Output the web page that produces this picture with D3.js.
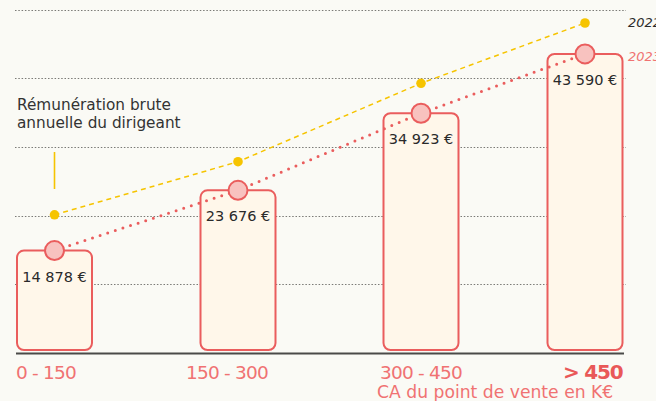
<!DOCTYPE html>
<html><head><meta charset="utf-8">
<script src="https://cdn.jsdelivr.net/npm/d3@7"></script>
<style>
html,body{margin:0;padding:0;background:#fafaf5;}
svg{display:block;}
text{font-family:"DejaVu Sans",sans-serif;}
</style></head>
<body><svg id="chart" width="656" height="401"></svg>
<script>
const categories = ["0 - 150", "150 - 300", "300 - 450", "> 450"];
const values2023 = [14878, 23676, 34923, 43590];
const values2022 = [20100, 27850, 39300, 48100];
const valueLabels = ["14 878 €", "23 676 €", "34 923 €", "43 590 €"];
const gridTicks = [10000, 20000, 30000, 40000, 50000];
const seriesNames = ["2022", "2023"];
const annotation = ["Rémunération brute", "annuelle du dirigeant"];
const axisTitle = "CA du point de vente en K€";

const W = 656, H = 401;
const svg = d3.select("#chart");
svg.append("rect").attr("width", W).attr("height", H).attr("fill", "#fafaf5");

const y = d3.scaleLinear().domain([0, 50000]).range([352.5, 10]);
const x = d3.scaleOrdinal().domain(categories).range([54.5, 238, 421, 585]);
const bw = 77;
const red = "#ea5d5d", yellow = "#f6c400", labelRed = "#f07272";

// gridlines
svg.append("g").selectAll("line").data(gridTicks).join("line")
  .attr("x1", 15).attr("x2", 626)
  .attr("y1", d => Math.round(y(d)) + 0.5).attr("y2", d => Math.round(y(d)) + 0.5)
  .attr("stroke", "#7a7a76").attr("stroke-width", 1.2)
  .attr("stroke-dasharray", "1.5 1.8");

// baseline
svg.append("line").attr("x1", 16).attr("x2", 624)
  .attr("y1", 353.5).attr("y2", 353.5)
  .attr("stroke", "#4a4a48").attr("stroke-width", 2);

// bars
svg.append("g").selectAll("rect").data(values2023).join("rect")
  .attr("x", (d, i) => x(categories[i]) - bw / 2 + 1)
  .attr("width", bw - 2)
  .attr("y", d => y(d))
  .attr("height", d => 350 - y(d))
  .attr("rx", 7).attr("ry", 7)
  .attr("fill", "#fff7ea").attr("stroke", red).attr("stroke-width", 2);

// 2022 line
const line = d3.line().x((d, i) => x(categories[i])).y(d => y(d));
svg.append("path").datum(values2022).attr("d", line)
  .attr("fill", "none").attr("stroke", yellow).attr("stroke-width", 1.5)
  .attr("stroke-dasharray", "5 4");
svg.append("g").selectAll("circle").data(values2022).join("circle")
  .attr("cx", (d, i) => x(categories[i])).attr("cy", d => y(d))
  .attr("r", 4.8).attr("fill", yellow);

// 2023 line
svg.append("path").datum(values2023).attr("d", line)
  .attr("fill", "none").attr("stroke", red).attr("stroke-width", 3)
  .attr("stroke-linecap", "round").attr("stroke-dasharray", "0 8");
svg.append("g").selectAll("circle").data(values2023).join("circle")
  .attr("cx", (d, i) => x(categories[i])).attr("cy", d => y(d))
  .attr("r", 9.5).attr("fill", "#f8c2bf").attr("stroke", red).attr("stroke-width", 2);

// value labels
svg.append("g").selectAll("text").data(values2023).join("text")
  .attr("x", (d, i) => x(categories[i])).attr("y", d => y(d) + 31)
  .attr("text-anchor", "middle").attr("font-size", 14.5).attr("fill", "#2a2a2a")
  .text((d, i) => valueLabels[i]);

// category labels
const anchors = ["start", "middle", "middle", "end"];
const offs = [-bw / 2, -11, 0, bw / 2 - 1];
svg.append("g").selectAll("text").data(categories).join("text")
  .attr("x", (d, i) => x(d) + offs[i]).attr("y", 379)
  .attr("text-anchor", (d, i) => anchors[i])
  .attr("font-size", (d, i) => i === 3 ? 20 : 18.5)
  .attr("font-weight", (d, i) => i === 3 ? "bold" : "normal")
  .attr("fill", (d, i) => i === 3 ? "#e95858" : labelRed)
  .style("letter-spacing", (d, i) => i === 3 ? "-1.2px" : "-0.8px")
  .text(d => d);

svg.append("text").attr("x", 377).attr("y", 398).attr("font-size", 17.2)
  .attr("fill", labelRed).text(axisTitle);

// legend
svg.append("text").attr("x", 628).attr("y", 27).attr("font-size", 13)
  .attr("font-style", "italic").attr("fill", "#2a2a2a").text(seriesNames[0]);
svg.append("text").attr("x", 628).attr("y", 61).attr("font-size", 13)
  .attr("font-style", "italic").attr("fill", labelRed).text(seriesNames[1]);

// annotation
svg.append("g").selectAll("text").data(annotation).join("text")
  .attr("x", 17).attr("y", (d, i) => 110 + i * 17.5)
  .attr("font-size", 15.3).attr("fill", "#333").text(d => d);
svg.append("line").attr("x1", x(categories[0])).attr("x2", x(categories[0]))
  .attr("y1", 152).attr("y2", 189).attr("stroke", yellow).attr("stroke-width", 1.6);
</script></body></html>
